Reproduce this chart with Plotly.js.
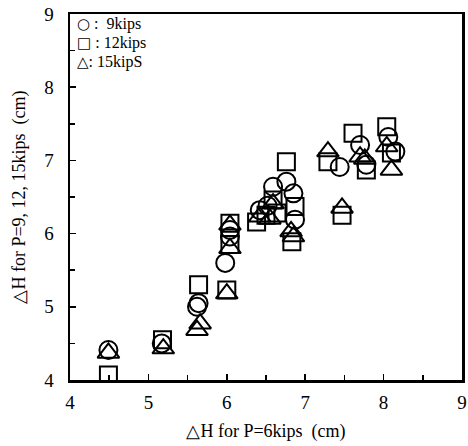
<!DOCTYPE html>
<html>
<head>
<meta charset="utf-8">
<script src="https://cdn.plot.ly/plotly-3.0.1.min.js"></script>
<style>html,body{margin:0;padding:0;background:#fff;}#chart{width:468px;height:446px;}</style>
</head>
<body>
<div id="chart"></div>
<script>
// 9 kips (circles)
const x9 = [4.49, 5.17, 5.62, 5.64, 5.98, 6.04, 6.04, 6.42, 6.52, 6.59, 6.76, 6.85, 6.87, 7.44, 7.70, 7.78, 8.06, 8.15];
const y9 = [4.41, 4.50, 5.00, 5.05, 5.60, 5.96, 6.05, 6.32, 6.38, 6.64, 6.71, 6.55, 6.19, 6.91, 7.21, 6.94, 7.32, 7.12];
// 12 kips (squares)
const x12 = [4.49, 5.18, 5.64, 6.00, 6.04, 6.04, 6.38, 6.50, 6.59, 6.64, 6.76, 6.87, 6.83, 7.29, 7.47, 7.61, 7.78, 8.04, 8.10];
const y12 = [4.07, 4.55, 5.30, 5.23, 6.14, 5.85, 6.16, 6.25, 6.46, 6.28, 6.98, 6.37, 5.89, 6.98, 6.25, 7.37, 6.87, 7.46, 7.10];
// 15 kips (triangles)
const x15 = [4.49, 5.19, 5.62, 5.66, 6.00, 6.04, 6.04, 6.42, 6.55, 6.59, 6.85, 6.82, 7.29, 7.47, 7.70, 7.76, 8.04, 8.10];
const y15 = [4.37, 4.43, 4.68, 4.77, 5.18, 6.12, 5.80, 6.23, 6.20, 6.41, 5.96, 6.03, 7.12, 6.35, 7.05, 7.02, 7.19, 6.87];

const legendSymbols = ['\u25CB', '\u25A1', '\u25B3'];
const legendLabels = [' :  9kips', ' : 12kips', ': 15kipS'];
const tickVals = [4, 5, 6, 7, 8, 9];

const serif = 'Liberation Serif, Times New Roman, serif';
const mk = (sym, size) => ({symbol: sym, size: size, color: '#000', line: {color: '#000', width: 2}});

const traces = [
  {x: x9, y: y9, mode: 'markers', type: 'scatter', name: '9kips', marker: mk('circle-open', 18)},
  {x: x12, y: y12, mode: 'markers', type: 'scatter', name: '12kips', marker: mk('square-open', 17)},
  {x: x15, y: y15, mode: 'markers', type: 'scatter', name: '15kipS', marker: mk('triangle-up-open', 19)}
];

const axisCommon = {
  range: [4, 9], tickvals: tickVals, ticktext: tickVals.map(String),
  ticks: 'inside', ticklen: 6, tickwidth: 1.5, tickcolor: '#000',
  minor: {dtick: 0.5, tick0: 4, ticks: 'inside', ticklen: 5, tickwidth: 1.5, tickcolor: '#000'},
  showline: true, linewidth: 2.5, linecolor: '#000', mirror: true,
  showgrid: false, zeroline: false,
  tickfont: {family: serif, size: 19, color: '#000'}
};

const layout = {
  width: 468, height: 446,
  margin: {l: 70, r: 6, t: 14, b: 66},
  paper_bgcolor: '#fff', plot_bgcolor: '#fff',
  showlegend: false,
  xaxis: Object.assign({}, axisCommon, {
    ticklabelstandoff: 4,
    title: {text: '\u25B3H for P=6kips  (cm)', font: {family: serif, size: 18, color: '#000'}, standoff: 12}
  }),
  yaxis: Object.assign({}, axisCommon, {
    ticklabelstandoff: 10,
    title: {text: '\u25B3H for P=9, 12, 15kips  (cm)', font: {family: serif, size: 18, color: '#000'}, standoff: 14}
  }),
  annotations: legendLabels.map((t, i) => ({
    text: '<span style="font-family:DejaVu Sans;font-size:15px">' + legendSymbols[i] + '</span>' + t,
    xref: 'paper', yref: 'paper', x: 0.012, y: 0.972 - i * 0.052,
    xanchor: 'left', yanchor: 'middle', showarrow: false,
    font: {family: serif, size: 16, color: '#000'}
  }))
};

Plotly.newPlot('chart', traces, layout, {staticPlot: true, displayModeBar: false});
</script>
</body>
</html>
